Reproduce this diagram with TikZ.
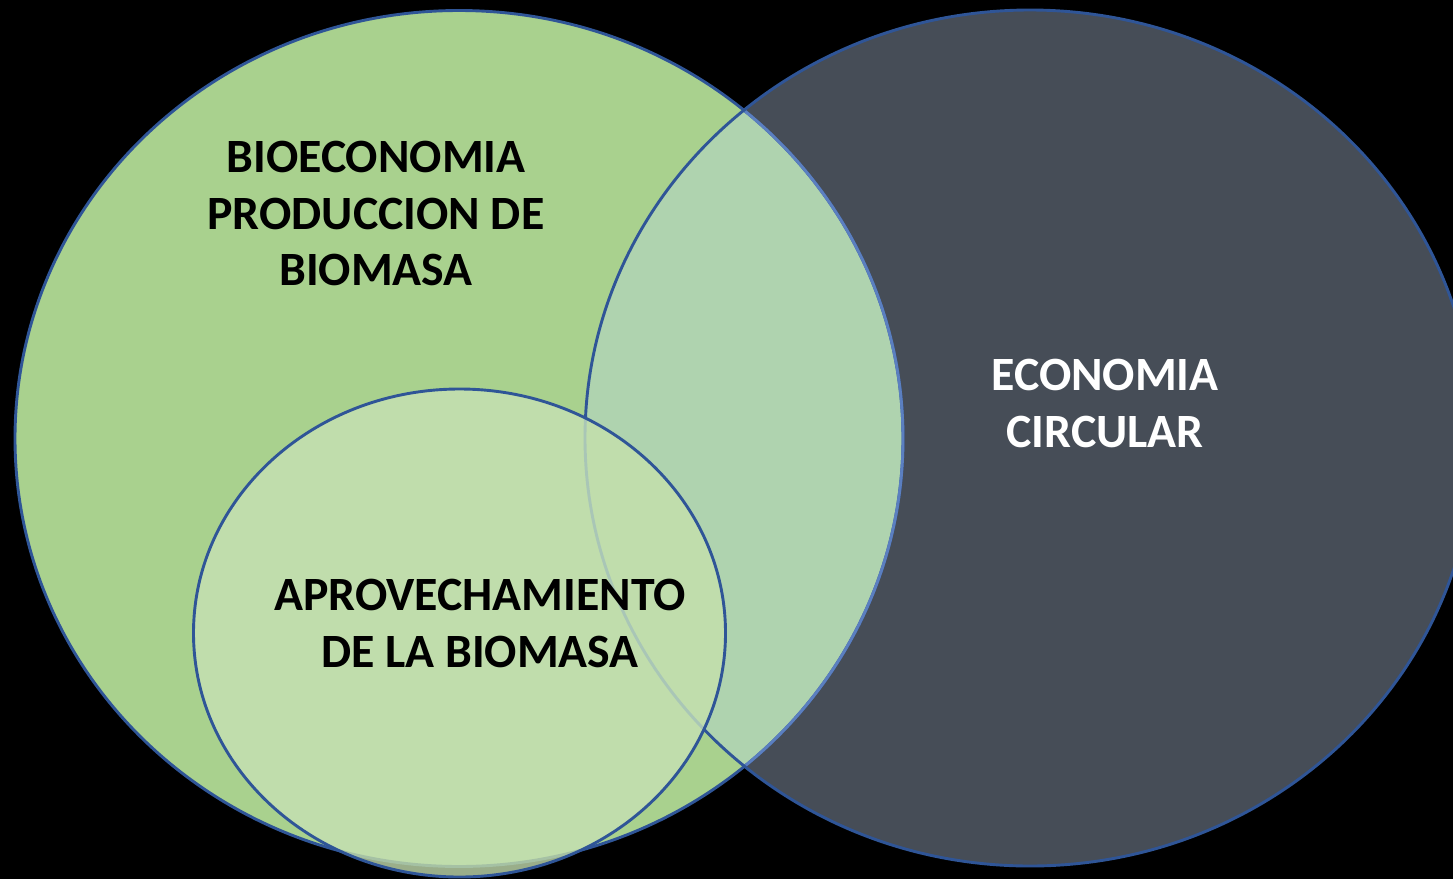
\documentclass[tikz,border=0pt]{standalone}
\usepackage{fontspec}
\setmainfont{Carlito}
\definecolor{bgblack}{HTML}{000000}
\definecolor{vgreen}{HTML}{A9D18E}
\definecolor{vdark}{HTML}{464D57}
\definecolor{voverlap}{HTML}{AFD3AF}
\definecolor{vsmall}{HTML}{C0DDAC}
\definecolor{vsmallout}{HTML}{9AAE8A}
\definecolor{vblue}{HTML}{2F5597}
\definecolor{vbluelight}{HTML}{5B7FC0}
\definecolor{vfadeA}{HTML}{A9C6B6}
\definecolor{vfadeB}{HTML}{A5C1A4}
\newcommand\GreenEll{(459,438.5) ellipse [x radius=444pt, y radius=428pt]}
\newcommand\DarkEll{(1030,438) ellipse [x radius=445pt, y radius=428pt]}
\newcommand\SmallEll{(459.5,633) ellipse [x radius=266pt, y radius=244pt]}
\tikzset{
  outline/.style={draw=vblue, line width=2.9pt},
  vlabel/.style={font=\fontsize{47.8}{56.5}\selectfont\bfseries, align=center, inner sep=0pt, anchor=center},
}
\begin{document}
\begin{tikzpicture}[x=1pt,y=-1pt]
\useasboundingbox (0,0) rectangle (1453,879);
\clip (0,0) rectangle (1453,879);
\fill[bgblack] (0,0) rectangle (1453,879);
% base fills
\fill[vdark] \DarkEll;
\fill[vgreen] \GreenEll;
% overlap
\begin{scope}
  \clip \GreenEll;
  \fill[voverlap] \DarkEll;
\end{scope}
% green outline (lighter where under the dark circle)
\draw[outline] \GreenEll;
\begin{scope}
  \clip \DarkEll;
  \draw[outline, draw=vbluelight] \GreenEll;
\end{scope}
\draw[outline] \DarkEll;
% small circle
\fill[vsmallout] \SmallEll;
\begin{scope}
  \clip \GreenEll;
  \fill[vsmall] \SmallEll;
\end{scope}
\begin{scope}
  \clip \SmallEll;
  \draw[line width=2.9pt, vfadeA] \DarkEll;
  \draw[line width=2.9pt, vfadeB] \GreenEll;
\end{scope}
\draw[outline] \SmallEll;
% labels
\node[vlabel, text=black] (bio) at (376,213.5) {BIOECONOMIA\\PRODUCCION DE\\BIOMASA};
\node[vlabel, text=white] (eco) at (1105,403.5) {ECONOMIA\\CIRCULAR};
\node[vlabel, text=black] (apr) at (480,623.5) {APROVECHAMIENTO\\DE LA BIOMASA};
\end{tikzpicture}
\end{document}
